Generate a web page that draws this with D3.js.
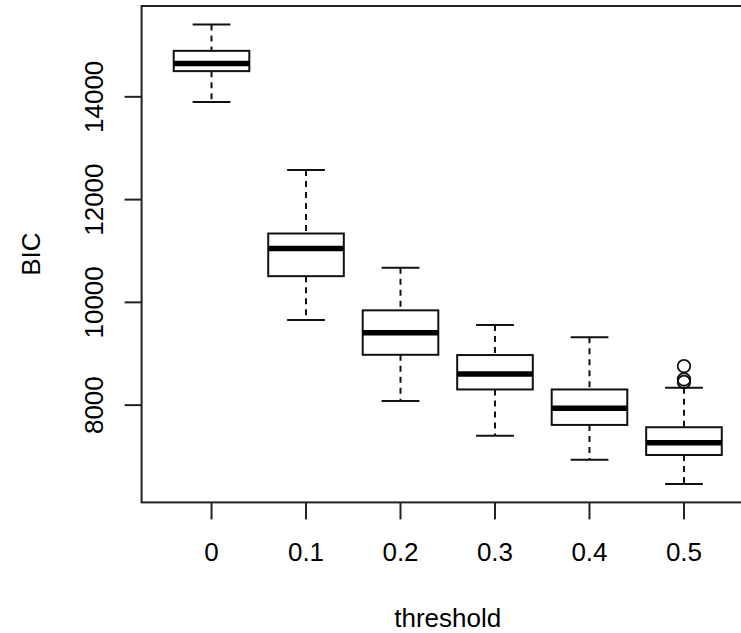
<!DOCTYPE html>
<html>
<head>
<meta charset="utf-8">
<script src="https://cdn.jsdelivr.net/npm/d3@7"></script>
<style>
body { margin: 0; background: #fff; }
text { font-family: "Liberation Sans", Arial, Helvetica, sans-serif; fill: #000; }
</style>
</head>
<body>
<svg id="chart" width="741" height="633"></svg>
<script>

// boxplot stats, one entry per threshold
var thresholds = ["0", "0.1", "0.2", "0.3", "0.4", "0.5"];
var lowWhisker = [13900, 9655, 8080, 7405, 6935, 6465];
var q1 = [14500, 10510, 8980, 8305, 7615, 7030];
var median = [14650, 11050, 9410, 8605, 7940, 7270];
var q3 = [14895, 11340, 9845, 8975, 8305, 7570];
var highWhisker = [15410, 12575, 10675, 9560, 9320, 8340];
var outliers = [[], [], [], [], [], [8760, 8500, 8450]];

var yTicks = [8000, 10000, 12000, 14000];

var svg = d3.select("#chart");

// plot region (R style, extends past the right edge of the picture)
var plotL = 141.6, plotR = 753.9, plotT = 6, plotB = 502.4;
var fontSize = "26px";

var x = d3.scaleLinear().domain([0.26, 6.74]).range([plotL, plotR]);

var lo = d3.min(lowWhisker), hi = d3.max(outliers[5].concat(highWhisker));
var pad = (hi - lo) * 0.04;
var y = d3.scaleLinear().domain([lo - pad, hi + pad]).range([plotB, plotT]);

var boxW = 0.8, capW = 0.4;

var groups = svg.selectAll("g.box")
  .data(thresholds)
  .enter().append("g").attr("class", "box");

// whiskers
groups.append("line")
  .attr("x1", function(d, i) { return x(i + 1); })
  .attr("x2", function(d, i) { return x(i + 1); })
  .attr("y1", function(d, i) { return y(highWhisker[i]); })
  .attr("y2", function(d, i) { return y(q3[i]); })
  .attr("stroke", "#111").attr("stroke-width", 2).attr("stroke-dasharray", "6,5");
groups.append("line")
  .attr("x1", function(d, i) { return x(i + 1); })
  .attr("x2", function(d, i) { return x(i + 1); })
  .attr("y1", function(d, i) { return y(q1[i]); })
  .attr("y2", function(d, i) { return y(lowWhisker[i]); })
  .attr("stroke", "#111").attr("stroke-width", 2).attr("stroke-dasharray", "6,5");

// caps
[highWhisker, lowWhisker].forEach(function(arr) {
  groups.append("line")
    .attr("x1", function(d, i) { return x(i + 1 - capW / 2); })
    .attr("x2", function(d, i) { return x(i + 1 + capW / 2); })
    .attr("y1", function(d, i) { return y(arr[i]); })
    .attr("y2", function(d, i) { return y(arr[i]); })
    .attr("stroke", "#111").attr("stroke-width", 2);
});

// boxes
groups.append("rect")
  .attr("x", function(d, i) { return x(i + 1 - boxW / 2); })
  .attr("width", function() { return x(1 + boxW) - x(1); })
  .attr("y", function(d, i) { return y(q3[i]); })
  .attr("height", function(d, i) { return y(q1[i]) - y(q3[i]); })
  .attr("fill", "#fff").attr("stroke", "#111").attr("stroke-width", 2);

// medians
groups.append("line")
  .attr("x1", function(d, i) { return x(i + 1 - boxW / 2); })
  .attr("x2", function(d, i) { return x(i + 1 + boxW / 2); })
  .attr("y1", function(d, i) { return y(median[i]); })
  .attr("y2", function(d, i) { return y(median[i]); })
  .attr("stroke", "#000").attr("stroke-width", 5.5);

// outliers
groups.each(function(d, i) {
  d3.select(this).selectAll("circle")
    .data(outliers[i])
    .enter().append("circle")
    .attr("cx", x(i + 1))
    .attr("cy", function(v) { return y(v); })
    .attr("r", 6.3)
    .attr("fill", "none").attr("stroke", "#111").attr("stroke-width", 1.8);
});

// frame
svg.append("rect")
  .attr("x", plotL).attr("y", plotT)
  .attr("width", plotR - plotL).attr("height", plotB - plotT)
  .attr("fill", "none").attr("stroke", "#222").attr("stroke-width", 2);

// y axis
var yAxis = svg.append("g").attr("class", "yaxis");
yAxis.selectAll("line")
  .data(yTicks).enter().append("line")
  .attr("x1", plotL - 17).attr("x2", plotL)
  .attr("y1", function(d) { return y(d); })
  .attr("y2", function(d) { return y(d); })
  .attr("stroke", "#222").attr("stroke-width", 2);
yAxis.selectAll("text")
  .data(yTicks).enter().append("text")
  .attr("transform", function(d) { return "translate(103," + y(d) + ") rotate(-90)"; })
  .attr("text-anchor", "middle")
  .style("font-size", fontSize)
  .text(function(d) { return d; });

// x axis
var xAxis = svg.append("g").attr("class", "xaxis");
xAxis.selectAll("line")
  .data(thresholds).enter().append("line")
  .attr("x1", function(d, i) { return x(i + 1); })
  .attr("x2", function(d, i) { return x(i + 1); })
  .attr("y1", plotB).attr("y2", plotB + 17)
  .attr("stroke", "#222").attr("stroke-width", 2);
xAxis.selectAll("text")
  .data(thresholds).enter().append("text")
  .attr("x", function(d, i) { return x(i + 1); })
  .attr("y", 561)
  .attr("text-anchor", "middle")
  .style("font-size", fontSize)
  .text(function(d) { return d; });

// axis titles
svg.append("text")
  .attr("x", (plotL + plotR) / 2).attr("y", 627)
  .attr("text-anchor", "middle")
  .style("font-size", fontSize)
  .text("threshold");

svg.append("text")
  .attr("transform", "translate(40," + (plotT + plotB) / 2 + ") rotate(-90)")
  .attr("text-anchor", "middle")
  .style("font-size", fontSize)
  .text("BIC");

</script>
</body>
</html>
